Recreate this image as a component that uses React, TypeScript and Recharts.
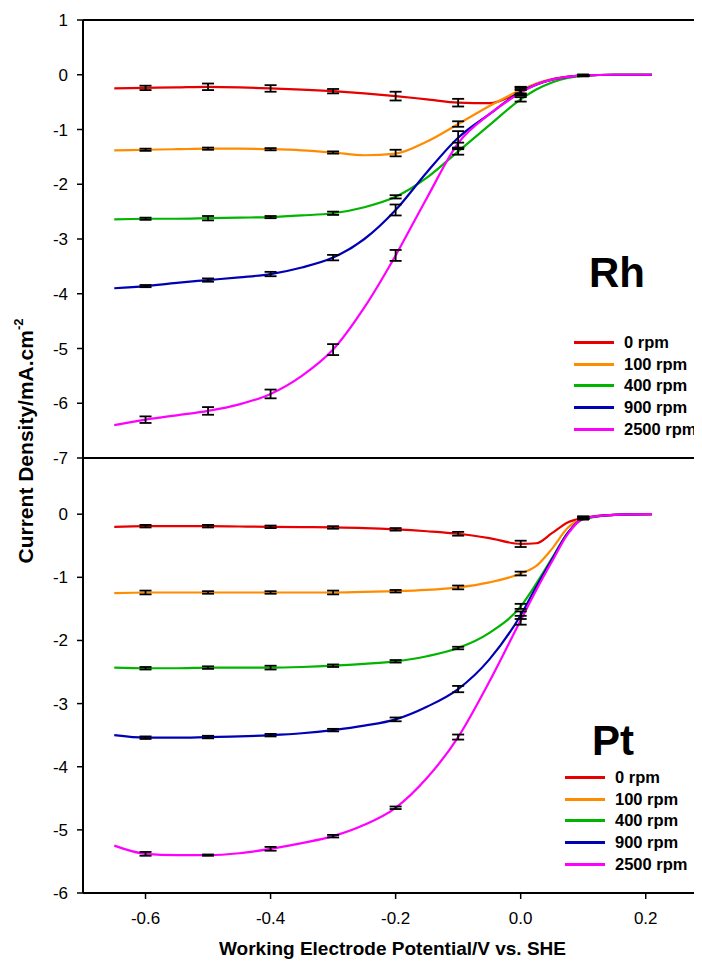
import React from 'react'
import { ComposedChart, Line, Scatter, ErrorBar, XAxis, YAxis, ReferenceLine, Legend } from 'recharts'

const font = 'Arial, "Liberation Sans", sans-serif'

const rpmLabels = ['0 rpm', '100 rpm', '400 rpm', '900 rpm', '2500 rpm']
const colors = ['#e60000', '#ff8c00', '#00b400', '#0000b4', '#ff00ff']

// sampled potentials (V vs SHE) for the continuous curves
const potentials = [-0.65, -0.6, -0.55, -0.5, -0.45, -0.4, -0.35, -0.3, -0.25, -0.2, -0.15, -0.1, -0.05, 0, 0.025, 0.05, 0.075, 0.1, 0.15, 0.21]

// Rh curves
const rh0 = [-0.25, -0.24, -0.23, -0.22, -0.23, -0.25, -0.27, -0.3, -0.34, -0.39, -0.45, -0.51, -0.52, -0.3, -0.17, -0.09, -0.04, -0.01, 0, 0]
const rh100 = [-1.38, -1.37, -1.36, -1.35, -1.35, -1.36, -1.38, -1.42, -1.47, -1.44, -1.22, -0.9, -0.57, -0.28, -0.16, -0.08, -0.035, -0.01, 0, 0]
const rh400 = [-2.64, -2.63, -2.63, -2.62, -2.61, -2.6, -2.57, -2.53, -2.42, -2.23, -1.88, -1.4, -0.92, -0.45, -0.27, -0.14, -0.06, -0.02, 0, 0]
const rh900 = [-3.9, -3.86, -3.8, -3.75, -3.7, -3.64, -3.52, -3.34, -3.0, -2.47, -1.78, -1.15, -0.72, -0.31, -0.18, -0.09, -0.04, -0.01, 0, 0]
const rh2500 = [-6.4, -6.3, -6.22, -6.14, -6.02, -5.83, -5.5, -5.02, -4.25, -3.3, -2.25, -1.25, -0.72, -0.33, -0.18, -0.09, -0.04, -0.01, 0, 0]

// Pt curves
const pt0 = [-0.2, -0.19, -0.19, -0.19, -0.195, -0.2, -0.205, -0.21, -0.22, -0.24, -0.27, -0.31, -0.38, -0.47, -0.46, -0.3, -0.13, -0.06, -0.01, 0]
const pt100 = [-1.25, -1.24, -1.24, -1.24, -1.24, -1.24, -1.24, -1.24, -1.23, -1.22, -1.2, -1.16, -1.08, -0.94, -0.82, -0.55, -0.22, -0.07, -0.01, 0]
const pt400 = [-2.43, -2.44, -2.44, -2.43, -2.43, -2.43, -2.42, -2.4, -2.37, -2.33, -2.25, -2.12, -1.88, -1.46, -1.1, -0.7, -0.3, -0.08, -0.01, 0]
const pt900 = [-3.5, -3.54, -3.54, -3.53, -3.52, -3.5, -3.47, -3.42, -3.35, -3.25, -3.05, -2.77, -2.3, -1.6, -1.15, -0.72, -0.3, -0.07, -0.01, 0]
const pt2500 = [-5.25, -5.38, -5.4, -5.4, -5.37, -5.3, -5.21, -5.1, -4.92, -4.65, -4.18, -3.53, -2.65, -1.68, -1.2, -0.75, -0.32, -0.07, -0.01, 0]

// error bar positions, means and half-widths
const errPotentials = [-0.6, -0.5, -0.4, -0.3, -0.2, -0.1, 0, 0.1]

const rhMeans = [
  [-0.24, -0.22, -0.25, -0.3, -0.39, -0.51, -0.3, -0.01],
  [-1.37, -1.35, -1.36, -1.42, -1.43, -0.9, -0.28, -0.01],
  [-2.63, -2.62, -2.6, -2.53, -2.23, -1.4, -0.45, -0.02],
  [-3.86, -3.75, -3.64, -3.34, -2.47, -1.18, -0.31, -0.01],
  [-6.3, -6.14, -5.83, -5.02, -3.3, -1.3, -0.33, -0.01],
]
const rhErrs = [
  [0.04, 0.06, 0.06, 0.04, 0.08, 0.07, 0.07, 0.01],
  [0.02, 0.02, 0.02, 0.02, 0.06, 0.05, 0.06, 0.01],
  [0.02, 0.04, 0.02, 0.03, 0.03, 0.06, 0.04, 0.01],
  [0.02, 0.03, 0.04, 0.05, 0.1, 0.15, 0.05, 0.01],
  [0.06, 0.07, 0.08, 0.1, 0.1, 0.06, 0.05, 0.01],
]

const ptMeans = [
  [-0.19, -0.19, -0.2, -0.21, -0.24, -0.31, -0.47, -0.06],
  [-1.24, -1.24, -1.24, -1.24, -1.22, -1.16, -0.94, -0.06],
  [-2.44, -2.43, -2.43, -2.4, -2.33, -2.12, -1.46, -0.06],
  [-3.54, -3.53, -3.5, -3.42, -3.25, -2.77, -1.6, -0.06],
  [-5.38, -5.4, -5.3, -5.1, -4.65, -3.53, -1.68, -0.06],
]
const ptErrs = [
  [0.02, 0.02, 0.02, 0.02, 0.02, 0.03, 0.05, 0.02],
  [0.03, 0.02, 0.02, 0.03, 0.02, 0.03, 0.03, 0.02],
  [0.02, 0.02, 0.03, 0.02, 0.02, 0.02, 0.04, 0.02],
  [0.02, 0.02, 0.02, 0.02, 0.03, 0.05, 0.06, 0.02],
  [0.03, 0.01, 0.03, 0.02, 0.02, 0.04, 0.07, 0.02],
]

const xTicks = [-0.6, -0.4, -0.2, 0, 0.2]
const rhTicks = [1, 0, -1, -2, -3, -4, -5, -6, -7]
const ptTicks = [0, -1, -2, -3, -4, -5, -6]

const buildRows = (series: number[][]) =>
  potentials.map((x, i) => {
    const row: Record<string, number> = { x }
    series.forEach((s, k) => (row['s' + k] = s[i]))
    return row
  })

const buildErrRows = (means: number[], errs: number[]) =>
  errPotentials.map((x, i) => ({ x, y: means[i], err: errs[i] }))

const LegendBox = (props: any) => {
  const items = (props.payload || [])
    .filter((p: any) => p.type !== 'none' && rpmLabels.includes(p.value))
    .sort((a: any, b: any) => rpmLabels.indexOf(a.value) - rpmLabels.indexOf(b.value))
  return (
    <div style={{ fontFamily: font, fontWeight: 'bold', fontSize: 16.5, color: '#000' }}>
      {items.map((p: any) => (
        <div key={p.value} style={{ display: 'flex', alignItems: 'center', height: 21.6, whiteSpace: 'nowrap' }}>
          <span style={{ display: 'inline-block', width: 40, height: 3, background: p.color, marginRight: 10 }} />
          {p.value}
        </div>
      ))}
    </div>
  )
}

const noDot = () => <g />

type PanelProps = {
  rows: Record<string, number>[]
  means: number[][]
  errs: number[][]
  yDomain: [number, number]
  yTicks: number[]
  height: number
  marginTop: number
  xAxisHeight: number
  showXLabels: boolean
  legendPos: { left: number; top: number }
  topBorder: boolean
}

function Panel(p: PanelProps) {
  return (
    <ComposedChart
      width={702}
      height={p.height}
      data={p.rows}
      margin={{ top: p.marginTop, right: 0, bottom: 0, left: 0 }}
      style={{ position: 'absolute', left: 0, top: 0 }}
    >
      <XAxis
        dataKey="x"
        type="number"
        domain={[-0.7, 0.29]}
        allowDataOverflow
        ticks={xTicks}
        interval={0}
        height={p.xAxisHeight}
        tickSize={6}
        tickMargin={13}
        tickLine={{ stroke: '#000', strokeWidth: 1.5 }}
        axisLine={{ stroke: '#000', strokeWidth: 2 }}
        tick={p.showXLabels ? { fill: '#000', fontSize: 17, fontFamily: font } : false}
        tickFormatter={(v: number) => v.toFixed(1)}
        label={
          p.showXLabels
            ? {
                value: 'Working Electrode Potential/V vs. SHE',
                position: 'insideBottom',
                offset: 12,
                fill: '#000',
                fontSize: 19,
                fontWeight: 'bold',
                fontFamily: font,
              }
            : undefined
        }
      />
      <YAxis
        type="number"
        domain={p.yDomain}
        allowDataOverflow
        ticks={p.yTicks}
        interval={0}
        width={83}
        tickSize={6}
        tickMargin={9}
        tickLine={{ stroke: '#000', strokeWidth: 1.5 }}
        axisLine={{ stroke: '#000', strokeWidth: 2 }}
        tick={{ fill: '#000', fontSize: 17, fontFamily: font }}
      />
      {p.topBorder && <ReferenceLine y={p.yDomain[1]} stroke="#000" strokeWidth={2} />}
      {rpmLabels.map((name, k) => (
        <Line
          key={name}
          dataKey={'s' + k}
          name={name}
          type="monotone"
          stroke={colors[k]}
          strokeWidth={2.2}
          dot={false}
          activeDot={false}
          isAnimationActive={false}
        />
      ))}
      {rpmLabels.map((name, k) => (
        <Scatter
          key={'e' + name}
          data={buildErrRows(p.means[k], p.errs[k])}
          dataKey="y"
          legendType="none"
          shape={noDot}
          isAnimationActive={false}
        >
          <ErrorBar dataKey="err" direction="y" width={6} stroke="#000" strokeWidth={1.8} isAnimationActive={false} />
        </Scatter>
      ))}
      <Legend
        layout="vertical"
        align="center"
        verticalAlign="middle"
        content={LegendBox}
        wrapperStyle={{ position: 'absolute', left: p.legendPos.left, top: p.legendPos.top, width: 'auto', height: 'auto' }}
      />
    </ComposedChart>
  )
}

export default function App() {
  return (
    <div style={{ position: 'relative', width: 702, height: 967, margin: -8, overflow: 'hidden', background: '#fff' }}>
      <Panel
        rows={buildRows([rh0, rh100, rh400, rh900, rh2500])}
        means={rhMeans}
        errs={rhErrs}
        yDomain={[-7, 1]}
        yTicks={rhTicks}
        height={468}
        marginTop={20}
        xAxisHeight={10}
        showXLabels={false}
        legendPos={{ left: 574, top: 332 }}
        topBorder
      />
      <Panel
        rows={buildRows([pt0, pt100, pt400, pt900, pt2500])}
        means={ptMeans}
        errs={ptErrs}
        yDomain={[-6, 0.89]}
        yTicks={ptTicks}
        height={967}
        marginTop={458}
        xAxisHeight={74}
        showXLabels
        legendPos={{ left: 565, top: 767 }}
        topBorder={false}
      />
      <svg width={702} height={967} style={{ position: 'absolute', left: 0, top: 0, pointerEvents: 'none' }}>
        <text
          transform="translate(33, 441) rotate(-90)"
          textAnchor="middle"
          fontFamily={font}
          fontWeight="bold"
          fontSize={21}
          fill="#000"
        >
          Current Density/mA.cm
          <tspan fontSize={13} dy={-10}>-2</tspan>
        </text>
        <text x={589} y={287} fontFamily={font} fontWeight="bold" fontSize={42} fill="#000">
          Rh
        </text>
        <text x={592} y={755} fontFamily={font} fontWeight="bold" fontSize={42} fill="#000">
          Pt
        </text>
      </svg>
    </div>
  )
}
